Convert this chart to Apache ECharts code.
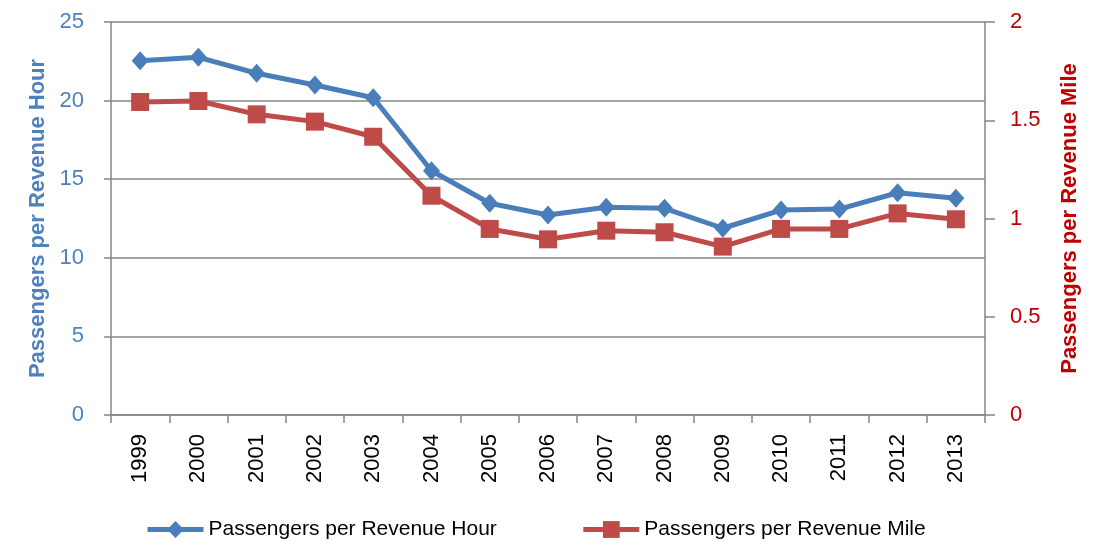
<!DOCTYPE html>
<html>
<head>
<meta charset="utf-8">
<script src="https://cdn.jsdelivr.net/npm/echarts@6/dist/echarts.min.js"></script>
<style>
  html, body { margin: 0; padding: 0; background: #ffffff; }
  #chart { width: 1111px; height: 542px; }
</style>
</head>
<body>
<div id="chart"></div>
<script>
// Transit productivity, 1999-2013
const years = ['1999', '2000', '2001', '2002', '2003', '2004', '2005', '2006',
               '2007', '2008', '2009', '2010', '2011', '2012', '2013'];
const perHour = [22.54, 22.75, 21.74, 20.99, 20.18, 15.54, 13.47, 12.72,
                 13.21, 13.15, 11.88, 13.04, 13.10, 14.14, 13.79];
const perMile = [1.593, 1.598, 1.530, 1.493, 1.416, 1.116, 0.947, 0.894,
                 0.938, 0.930, 0.857, 0.947, 0.947, 1.026, 0.996];
const hourName = 'Passengers per Revenue Hour';
const mileName = 'Passengers per Revenue Mile';

const FONT = '"Liberation Sans", Arial, sans-serif';
const AXIS_GRAY = '#868686';
const BLUE = '#4A7EBB';
const RED = '#BE4B48';

const chart = echarts.init(document.getElementById('chart'), null, { renderer: 'canvas' });

chart.setOption({
  animation: false,
  backgroundColor: '#ffffff',
  textStyle: { fontFamily: FONT },
  grid: { left: 111, right: 126, top: 22, bottom: 127, containLabel: false },
  legend: {
    left: 140,
    top: 514,
    itemWidth: 56,
    itemHeight: 21,
    itemGap: 84,
    lineStyle: { width: 5 },
    textStyle: { fontFamily: FONT, fontSize: 21, color: '#000000' },
    data: [hourName, mileName]
  },
  xAxis: {
    type: 'category',
    data: years,
    boundaryGap: true,
    axisLine: { lineStyle: { color: AXIS_GRAY, width: 1.5 } },
    axisTick: { show: true, length: 8, lineStyle: { color: AXIS_GRAY, width: 1.5 } },
    axisLabel: { rotate: 90, margin: 19, fontSize: 22, color: '#000000', fontFamily: FONT }
  },
  yAxis: [
    {
      type: 'value',
      min: 0, max: 25, interval: 5,
      position: 'left',
      name: hourName,
      nameLocation: 'middle',
      nameGap: 61,
      nameTextStyle: { fontSize: 22, fontWeight: 'bold', color: '#4F81BD', fontFamily: FONT },
      axisLine: { show: true, lineStyle: { color: AXIS_GRAY, width: 1.5 } },
      axisTick: { show: true, length: 7, lineStyle: { color: AXIS_GRAY, width: 1.5 } },
      axisLabel: { margin: 27, fontSize: 22, color: '#4F81BD', fontFamily: FONT },
      splitLine: { show: true, lineStyle: { color: AXIS_GRAY, width: 1.5 } }
    },
    {
      type: 'value',
      min: 0, max: 2, interval: 0.5,
      position: 'right',
      name: mileName,
      nameLocation: 'middle',
      nameGap: 74,
      nameTextStyle: { fontSize: 22, fontWeight: 'bold', color: '#C00000', fontFamily: FONT },
      axisLine: { show: true, lineStyle: { color: AXIS_GRAY, width: 1.5 } },
      axisTick: { show: true, length: 10, lineStyle: { color: AXIS_GRAY, width: 1.5 } },
      axisLabel: { margin: 25, fontSize: 22, color: '#C00000', fontFamily: FONT },
      splitLine: { show: false }
    }
  ],
  series: [
    {
      name: hourName,
      type: 'line',
      yAxisIndex: 0,
      data: perHour,
      symbol: 'diamond',
      symbolSize: [17, 19],
      itemStyle: { color: BLUE },
      lineStyle: { color: BLUE, width: 5 },
      z: 3
    },
    {
      name: mileName,
      type: 'line',
      yAxisIndex: 1,
      data: perMile,
      symbol: 'rect',
      symbolSize: 18,
      itemStyle: { color: RED },
      lineStyle: { color: RED, width: 5 },
      z: 2
    }
  ]
});
</script>
</body>
</html>
